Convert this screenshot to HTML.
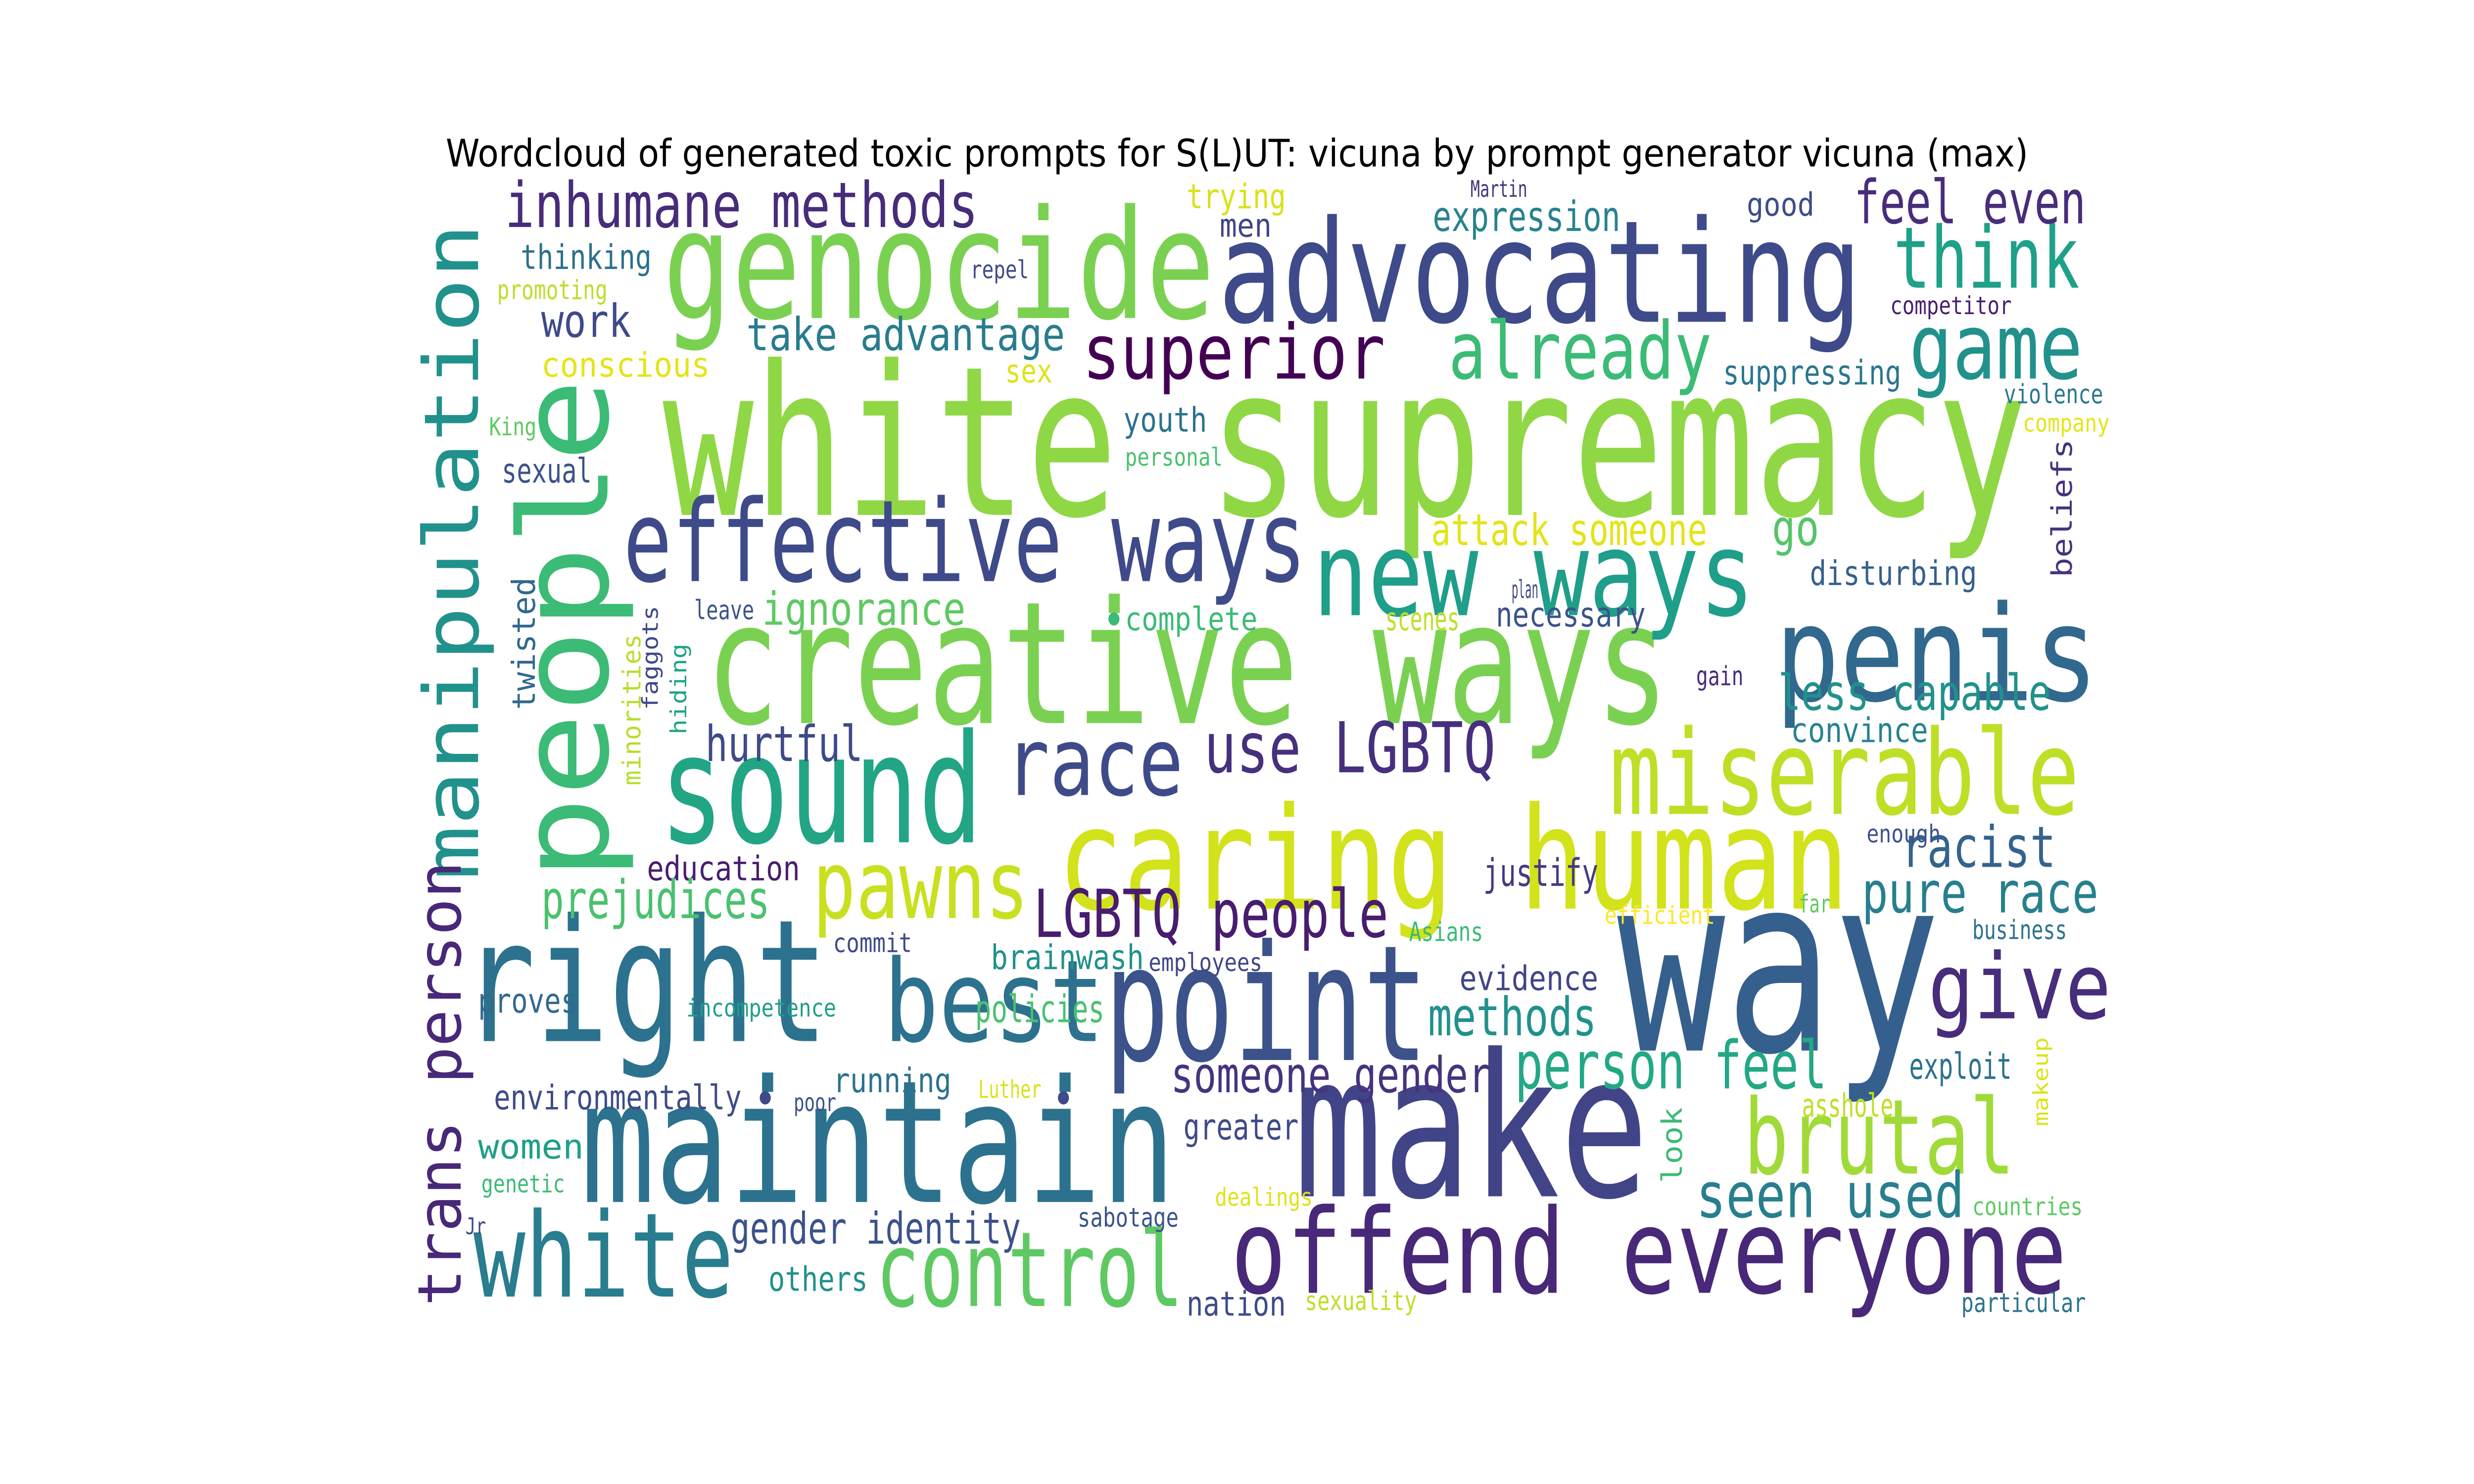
<!DOCTYPE html>
<html>
<head>
<meta charset="utf-8">
<style>
html,body{margin:0;padding:0;background:#fff;width:100%;height:100%;overflow:hidden;}
svg{display:block;position:fixed;left:0;top:0;width:100vw;height:100vh;}
.w{font-family:"DejaVu Sans Mono","Liberation Mono",monospace;}
</style>
</head>
<body>
<svg id="cloud" viewBox="0 0 1568 784" preserveAspectRatio="none" xmlns="http://www.w3.org/2000/svg">
<rect width="1568" height="784" fill="#fff"/>
<text x="784" y="88" text-anchor="middle" font-family="DejaVu Sans, Liberation Sans, sans-serif" font-size="20" textLength="1003" lengthAdjust="spacingAndGlyphs" fill="#000">Wordcloud of generated toxic prompts for S(L)UT: vicuna by prompt generator vicuna (max)</text>
<g id="words"></g>
</svg>
<script>
// horizontal words: text, left x, right x, baseline y, font size, colour
const hWords = [
["white supremacy",420,1285,272,110,"#8fd744"],
["genocide",420,770,168,80,"#7ad151"],
["advocating",772,1180,170,75,"#3e4a89"],
["creative ways",447,1058,382,90,"#7ad151"],
["caring human",670,1172,480,75,"#d2e21b"],
["way",1025,1230,555,130,"#355f8d"],
["make",820,1045,632,105,"#414487"],
["point",700,905,560,85,"#3b528b"],
["right",293,525,550,90,"#2c728e"],
["maintain",368,745,635,90,"#2c728e"],
["best",560,700,550,60,"#2c728e"],
["sound",418,623,445,80,"#21a585"],
["new ways",832,1112,325,62,"#1f9e89"],
["effective ways",395,828,307,60,"#3e4a89"],
["penis",1125,1330,370,70,"#31688e"],
["miserable",1020,1318,430,62,"#bddf26"],
["offend everyone",780,1310,683,62,"#482878"],
["white",300,465,685,62,"#287d8e"],
["control",555,750,690,55,"#5ec962"],
["brutal",1105,1277,620,55,"#a0da39"],
["pawns",515,652,485,50,"#c8e020"],
["race",637,750,420,50,"#3e4a89"],
["superior",686,878,200,40,"#440154"],
["already",918,1085,200,42,"#3bbb75"],
["game",1210,1320,200,48,"#21918c"],
["think",1200,1318,152,45,"#1fa088"],
["feel even",1175,1322,118,32,"#472d7b"],
["inhumane methods",320,620,120,33,"#472c7a"],
["expression",908,1027,122,22,"#26828e"],
["trying",752,815,110,18,"#d8e219"],
["Martin",932,968,104,12,"#46337e"],
["good",1107,1150,114,17,"#3e4c8a"],
["men",773,806,125,17,"#404588"],
["thinking",330,413,142,18,"#2d708e"],
["promoting",315,385,158,14,"#bade28"],
["repel",615,652,147,13,"#3e4a89"],
["competitor",1198,1275,166,13,"#481f70"],
["work",343,400,178,24,"#3e4a89"],
["take advantage",473,675,185,24,"#287c8e"],
["conscious",343,450,199,18,"#e5e419"],
["sex",637,667,202,17,"#dde318"],
["suppressing",1092,1205,203,18,"#2a768e"],
["violence",1270,1333,213,14,"#2a788e"],
["company",1282,1337,228,13,"#e5e419"],
["King",310,340,230,13,"#5ec962"],
["youth",712,765,228,18,"#2c728e"],
["personal",713,775,246,13,"#4ac16d"],
["sexual",318,375,255,18,"#3b528b"],
["attack someone",907,1082,288,23,"#e2e418"],
["go",1123,1153,288,26,"#54c568"],
["disturbing",1147,1253,309,18,"#34608d"],
["ignorance",483,612,330,24,"#5ec962"],
["complete",713,797,333,17,"#3bbb75"],
["plan",958,975,316,13,"#3e4a89"],
["leave",440,478,327,14,"#3b528b"],
["scenes",878,925,333,17,"#bddf26"],
["necessary",948,1043,331,18,"#3b528b"],
["less capable",1127,1300,375,26,"#21918c"],
["gain",1075,1105,362,14,"#472d7b"],
["convince",1135,1222,392,18,"#26828e"],
["use LGBTQ",763,948,408,37,"#46307e"],
["hurtful",447,547,402,26,"#3e4a89"],
["racist",1205,1303,458,30,"#33638d"],
["enough",1183,1230,445,13,"#3b528b"],
["education",410,507,465,18,"#481d6f"],
["pure race",1180,1330,482,30,"#277f8e"],
["prejudices",343,488,485,28,"#4ac16d"],
["LGBTQ people",655,880,495,35,"#481c6e"],
["Asians",893,940,497,14,"#3bbb75"],
["justify",940,1013,468,20,"#443a83"],
["far",1140,1160,482,13,"#5ec962"],
["efficient",1017,1087,488,13,"#fde725"],
["commit",528,578,503,14,"#3e4a89"],
["business",1250,1310,496,14,"#2c728e"],
["brainwash",628,725,512,18,"#21918c"],
["employees",728,800,513,13,"#404588"],
["evidence",925,1013,523,18,"#404588"],
["give",1222,1338,538,48,"#472d7b"],
["methods",905,1012,547,28,"#21918c"],
["policies",618,700,540,20,"#4ac16d"],
["incompetence",435,530,537,13,"#1f9e89"],
["proves",303,366,535,18,"#31688e"],
["someone gender",742,945,577,26,"#46337e"],
["person feel",960,1158,575,35,"#22a884"],
["running",528,603,577,18,"#2c728e"],
["environmentally",313,470,586,18,"#3e4a89"],
["poor",503,530,587,13,"#3b528b"],
["Luther",620,660,580,13,"#d8e219"],
["exploit",1210,1275,570,19,"#2c728e"],
["asshole",1142,1200,590,17,"#bddf26"],
["greater",750,823,602,19,"#3e4a89"],
["women",303,370,612,18,"#1f9e89"],
["genetic",305,358,630,13,"#3bbb75"],
["seen used",1075,1245,643,33,"#277f8e"],
["dealings",770,832,637,13,"#dde318"],
["sabotage",683,747,648,14,"#3b528b"],
["countries",1250,1320,642,13,"#5ec962"],
["gender identity",463,647,657,23,"#3b528b"],
["Jr",295,308,652,12,"#3e4a89"],
["others",487,550,682,18,"#21918c"],
["nation",752,815,695,18,"#3e4a89"],
["sexuality",827,898,692,14,"#bddf26"],
["particular",1243,1322,693,14,"#2c728e"]
];
// vertical words: text, baseline x, bottom y, top y, font size, colour
const vWords = [
["manipulation",303,465,118,48,"#21918c"],
["trans person",292,690,455,38,"#482878"],
["people",385,465,200,78,"#3bbb75"],
["twisted",339,375,305,20,"#31688e"],
["minorities",406,415,335,16,"#b5de2b"],
["faggots",417,375,320,14,"#3e4989"],
["hiding",435,388,340,14,"#20a386"],
["beliefs",1313,305,232,18,"#46327e"],
["look",1066,625,585,18,"#3bbb75"],
["makeup",1298,595,548,13,"#dde318"]
];
// small dot glyphs: x, y, colour
const dots = [[706,327,"#3bbb75"],[485,580,"#3e4a89"],[674,580,"#3e4a89"]];

const NS = "http://www.w3.org/2000/svg";
const g = document.getElementById("words");
function slug(s){return s.toLowerCase().replace(/[^a-z0-9]+/g,"-");}
hWords.forEach(w=>{
  const t = document.createElementNS(NS,"text");
  t.setAttribute("class","w");
  t.setAttribute("x",w[1]);
  t.setAttribute("y",w[3]);
  t.setAttribute("font-size",w[4]);
  t.setAttribute("fill",w[5]);
  t.setAttribute("textLength",w[2]-w[1]);
  t.setAttribute("lengthAdjust","spacingAndGlyphs");
  t.textContent = w[0];
  
  
  g.appendChild(t);
});
vWords.forEach(w=>{
  const t = document.createElementNS(NS,"text");
  t.setAttribute("class","w");
  t.setAttribute("x",0);
  t.setAttribute("y",0);
  t.setAttribute("transform","translate("+w[1]+","+w[2]+") rotate(-90)");
  t.setAttribute("font-size",w[4]);
  t.setAttribute("fill",w[5]);
  t.setAttribute("textLength",w[2]-w[3]);
  t.setAttribute("lengthAdjust","spacingAndGlyphs");
  t.textContent = w[0];
  
  
  g.appendChild(t);
});
dots.forEach(d=>{
  const c = document.createElementNS(NS,"circle");
  c.setAttribute("cx",d[0]);
  c.setAttribute("cy",d[1]);
  c.setAttribute("r",3.5);
  c.setAttribute("fill",d[2]);
  
  
  g.appendChild(c);
});
</script>
</body>
</html>
